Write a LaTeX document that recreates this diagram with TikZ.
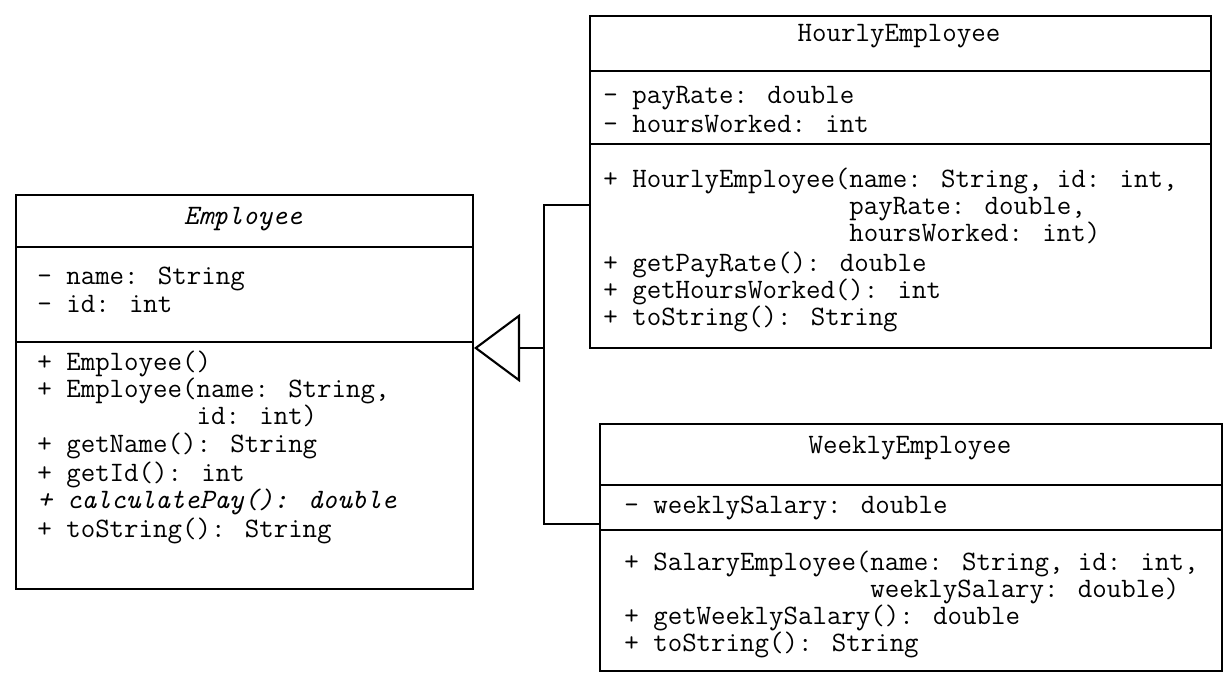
\documentclass[tikz,border=0pt]{standalone}
\usepackage{fontspec}
\usetikzlibrary{arrows.meta}
\begin{document}
\begin{tikzpicture}[x=0.02cm, y=-0.02cm,
  umlfont/.style={font=\ttfamily\fontsize{16}{18}\selectfont},
  classbox/.style={draw, line width=1.2pt, anchor=north west, inner sep=0pt},
  compline/.style={line width=1.2pt},
  member/.style={umlfont, inner sep=0pt, anchor=base west},
  cname/.style={umlfont, inner sep=0pt, anchor=base},
  link/.style={line width=1.2pt},
  gen/.style={link, -{Triangle[open, length=0.92cm, width=1.36cm]}}
]
\useasboundingbox (0,0) rectangle (1225,675);

% ---------- class boxes ----------
\node[classbox, minimum width=9.14cm, minimum height=7.88cm] (emp) at (15,194) {};
\node[classbox, minimum width=12.42cm, minimum height=6.64cm] (hr) at (589,15) {};
\node[classbox, minimum width=12.44cm, minimum height=4.94cm] (wk) at (599,423) {};

% compartment separators
\coordinate (es1) at (0,247);  \coordinate (es2) at (0,342);
\coordinate (hs1) at (0,71);   \coordinate (hs2) at (0,144);
\coordinate (ws1) at (0,485);  \coordinate (ws2) at (0,530);
\draw[compline] (emp.west |- es1) -- (emp.east |- es1);
\draw[compline] (emp.west |- es2) -- (emp.east |- es2);
\draw[compline] (hr.west |- hs1) -- (hr.east |- hs1);
\draw[compline] (hr.west |- hs2) -- (hr.east |- hs2);
\draw[compline] (wk.west |- ws1) -- (wk.east |- ws1);
\draw[compline] (wk.west |- ws2) -- (wk.east |- ws2);

% ---------- Employee ----------
\node[cname] (emp-name) at (243,225) {\itshape Employee};
\node[member] (emp-a1) at (37,285) {- name: String};
\node[member] (emp-a2) at (37,313) {- id: int};
\node[member] (emp-m1) at (37,371) {+ Employee()};
\node[member] (emp-m2) at (37,398) {+ Employee(name: String,};
\node[member] (emp-m2b) at (37,425) {\hphantom{+ Employee(}id: int)};
\node[member] (emp-m3) at (37,453) {+ getName(): String};
\node[member] (emp-m4) at (37,482) {+ getId(): int};
\node[member] (emp-m5) at (37,509) {\itshape + calculatePay(): double};
\node[member] (emp-m6) at (37,538) {+ toString(): String};

% ---------- HourlyEmployee ----------
\node[cname] (hr-name) at (899,42) {HourlyEmployee};
\node[member] (hr-a1) at (603,104) {- payRate: double};
\node[member] (hr-a2) at (603,133) {- hoursWorked: int};
\node[member] (hr-m1) at (603,188) {+ HourlyEmployee(name: String, id: int,};
\node[member] (hr-m1b) at (603,215) {\hphantom{+ HourlyEmployee(}payRate: double,};
\node[member] (hr-m1c) at (603,242) {\hphantom{+ HourlyEmployee(}hoursWorked: int)};
\node[member] (hr-m2) at (603,272) {+ getPayRate(): double};
\node[member] (hr-m3) at (603,299) {+ getHoursWorked(): int};
\node[member] (hr-m4) at (603,326) {+ toString(): String};

% ---------- WeeklyEmployee ----------
\node[cname] (wk-name) at (910,454) {WeeklyEmployee};
\node[member] (wk-a1) at (624,514) {- weeklySalary: double};
\node[member] (wk-m1) at (624,571) {+ SalaryEmployee(name: String, id: int,};
\node[member] (wk-m1b) at (624,598) {\hphantom{+ SalaryEmployee(}weeklySalary: double)};
\node[member] (wk-m2) at (624,625) {+ getWeeklySalary(): double};
\node[member] (wk-m3) at (624,652) {+ toString(): String};

% ---------- generalization ----------
\coordinate (jt) at (544,205);
\coordinate (jb) at (544,524);
\coordinate (jm) at (544,348);
\draw[link] (hr.west |- jt) -- (jt) -- (jb) -- (wk.west |- jb);
\draw[gen] (jm) -- (emp.east |- jm);
\end{tikzpicture}
\end{document}
